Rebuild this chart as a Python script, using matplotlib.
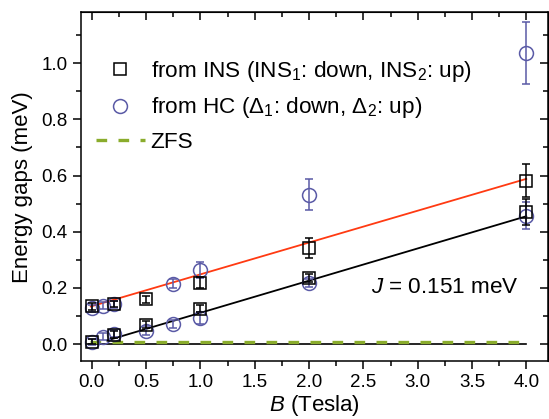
import matplotlib
matplotlib.use("Agg")
import matplotlib.pyplot as plt
import numpy as np
from matplotlib.ticker import MultipleLocator, FormatStrFormatter
from matplotlib.lines import Line2D

plt.rcParams['font.family'] = ['Liberation Sans', 'DejaVu Sans']
plt.rcParams['mathtext.fontset'] = 'custom'
plt.rcParams['mathtext.rm'] = 'Liberation Sans'
plt.rcParams['mathtext.it'] = 'Liberation Sans:italic'

# INS data (squares)
ins_B = [0.0, 0.2, 0.5, 1.0, 2.0, 4.0]
ins_up = [0.134, 0.143, 0.160, 0.219, 0.342, 0.582]
ins_up_err = [0.012, 0.012, 0.012, 0.02, 0.036, 0.058]
ins_down = [0.009, 0.033, 0.069, 0.126, 0.236, 0.470]
ins_down_err = [0.01, 0.012, 0.012, 0.012, 0.015, 0.045]

# HC data (circles)
hc_B = [0.0, 0.1, 0.2, 0.5, 0.75, 1.0, 2.0, 4.0]
hc_up = [0.128, 0.137, 0.142, None, 0.215, 0.264, 0.532, 1.035]
hc_up_err = [0.012, 0.012, 0.012, None, 0.015, 0.03, 0.055, 0.11]
hc_down = [0.008, 0.027, 0.037, 0.048, 0.072, 0.093, 0.218, 0.457]
hc_down_err = [0.012, 0.012, 0.012, 0.015, 0.015, 0.02, 0.015, 0.048]

# fitted lines
fit_up_B = [-0.01, 4.0]
fit_up_E = [0.134, 0.588]
fit_down_B = [0.14, 4.0]
fit_down_E = [0.013, 0.455]
zero_B = [-0.05, 4.0]
zero_E = [0.0, 0.0]
zfs_B = [-0.02, 4.0]
zfs_E = [0.009, 0.009]

W, H = 549, 419
fig = plt.figure(figsize=(W/100, H/100), dpi=100)
ax = fig.add_axes([81/W, 1-361/H, (548-81)/W, (361-12.5)/H])

blue = '#5a5aa6'
zfs_col = '#8aac2c'
ax.plot(zero_B, zero_E, color='black', lw=1.2, zorder=1)
ax.plot(zfs_B, zfs_E, color=zfs_col, lw=2.4, ls=(0, (3.2, 3.4)), zorder=2)
ax.plot(fit_up_B, fit_up_E, color='#ff3a12', lw=1.3, zorder=2)
ax.plot(fit_down_B, fit_down_E, color='black', lw=1.3, zorder=2)

def sel(B, v, e):
    b = [x for x, y in zip(B, v) if y is not None]
    vv = [y for y in v if y is not None]
    ee = [z for y, z in zip(v, e) if y is not None]
    return b, vv, ee

mk = dict(capsize=3.2, elinewidth=1.1, capthick=1.1, mew=1.1, mfc='none', ls='none')
b, v, e = sel(hc_B, hc_up, hc_up_err)
ax.errorbar(b, v, yerr=e, marker='o', ms=10, color=blue, zorder=3, **mk)
b, v, e = sel(hc_B, hc_down, hc_down_err)
ax.errorbar(b, v, yerr=e, marker='o', ms=10, color=blue, zorder=3, **mk)
ax.errorbar(ins_B, ins_up, yerr=ins_up_err, marker='s', ms=8.5, color='black', zorder=4, **mk)
ax.errorbar(ins_B, ins_down, yerr=ins_down_err, marker='s', ms=8.5, color='black', zorder=4, **mk)

ax.set_xlim(-0.1, 4.2)
ax.set_ylim(-0.06, 1.18)
ax.xaxis.set_major_locator(MultipleLocator(0.5))
ax.xaxis.set_minor_locator(MultipleLocator(0.25))
ax.yaxis.set_major_locator(MultipleLocator(0.2))
ax.yaxis.set_minor_locator(MultipleLocator(0.1))
ax.xaxis.set_major_formatter(FormatStrFormatter('%.1f'))
ax.yaxis.set_major_formatter(FormatStrFormatter('%.1f'))
ax.tick_params(which='both', direction='out', labelsize=13.5, width=1.1)
ax.tick_params(which='major', length=6)
ax.tick_params(which='minor', length=3.5)
for sp in ax.spines.values():
    sp.set_linewidth(1.1)
# top/right ticks pointing inward (mirrored)
axt = ax.secondary_xaxis('top')
axt.xaxis.set_major_locator(MultipleLocator(0.5))
axt.xaxis.set_minor_locator(MultipleLocator(0.25))
axt.tick_params(which='both', direction='in', labeltop=False, width=1.1)
axt.tick_params(which='major', length=6)
axt.tick_params(which='minor', length=3.5)
axr = ax.secondary_yaxis('right')
axr.yaxis.set_major_locator(MultipleLocator(0.2))
axr.yaxis.set_minor_locator(MultipleLocator(0.1))
axr.tick_params(which='both', direction='in', labelright=False, width=1.1)
axr.tick_params(which='major', length=6)
axr.tick_params(which='minor', length=3.5)

ax.set_xlabel(r'$B$ (Tesla)', fontsize=16, labelpad=1)
ax.set_ylabel('Energy gaps (meV)', fontsize=16, labelpad=6)

ax.text(2.57, 0.2, r'$J$ = 0.151 meV', fontsize=16.2, va='center', ha='left')

h_ins = Line2D([], [], marker='s', ms=8.5, mfc='none', mec='black', mew=1.1, ls='none')
h_hc = Line2D([], [], marker='o', ms=10, mfc='none', mec=blue, mew=1.1, ls='none')
h_zfs = Line2D([], [], color=zfs_col, lw=2.4, ls=(0, (3.2, 3.4)))
leg = ax.legend([h_ins, h_hc, h_zfs],
                ['from INS (INS$_1$: down, INS$_2$: up)',
                 'from HC (Δ$_1$: down, Δ$_2$: up)', 'ZFS'],
                loc='upper left', bbox_to_anchor=(0.012, 0.893), frameon=False,
                fontsize=16.2, handlelength=2.2, handletextpad=0.25,
                labelspacing=0.52, borderaxespad=0)

fig.savefig('out.png', dpi=100)
